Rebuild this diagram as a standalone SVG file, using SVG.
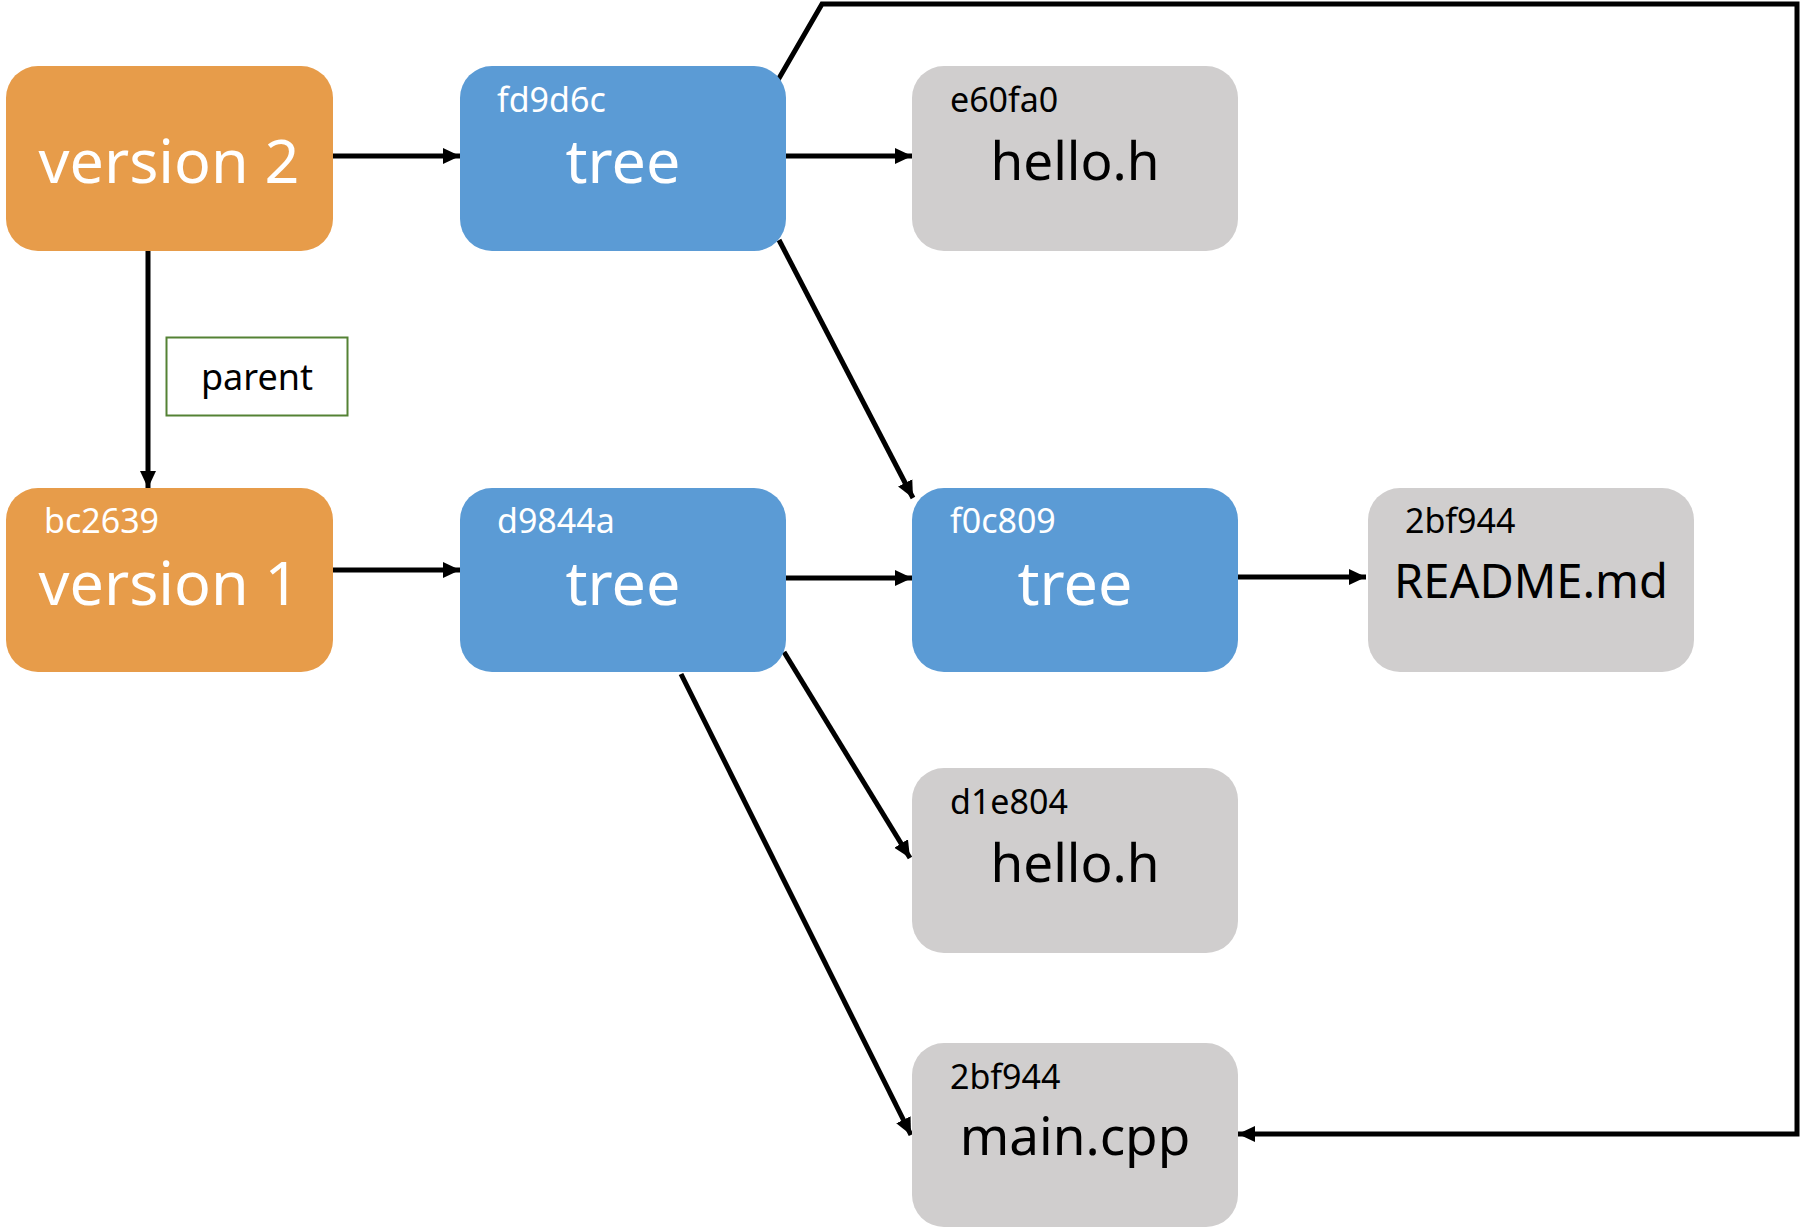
<svg xmlns="http://www.w3.org/2000/svg" width="1801" height="1227" viewBox="0 0 1801 1227">
<style>
.box{stroke:none}
.orange{fill:#E79C4A}
.blue{fill:#5B9BD5}
.grey{fill:#D0CECE}
.t{font-family:"Noto Sans","Liberation Sans",sans-serif}
.w{fill:#FFFFFF}
.k{fill:#000000}
.big{font-size:61px}
.hash{font-size:34px}
.file{font-size:53px}
.conn{fill:none;stroke:#000;stroke-width:5;marker-end:url(#arr)}
</style>
<defs>
<marker id="arr" markerUnits="userSpaceOnUse" markerWidth="18" markerHeight="18" refX="17" refY="9" orient="auto">
<path d="M0,1 L17,9 L0,17 Z" fill="#000"/>
</marker>
</defs>
<rect width="1801" height="1227" fill="#FFFFFF"/>
<g id="connectors">
<line class="conn" x1="333" y1="156" x2="460" y2="156"/>
<line class="conn" x1="333" y1="570" x2="460" y2="570"/>
<line class="conn" x1="786" y1="156" x2="912" y2="156"/>
<line class="conn" x1="786" y1="578" x2="912" y2="578"/>
<line class="conn" x1="1238" y1="577" x2="1366" y2="577"/>
<line class="conn" x1="148" y1="251" x2="148" y2="488"/>
<line class="conn" x1="779" y1="240" x2="913" y2="498"/>
<line class="conn" x1="784" y1="652" x2="910" y2="858"/>
<line class="conn" x1="681" y1="674" x2="911" y2="1135"/>
<polyline class="conn" points="778,80 822,4 1797,4 1797,1134 1238,1134"/>
</g>
<g id="label-parent">
<rect x="166.5" y="337.5" width="181" height="78" fill="#FFFFFF" stroke="#548235" stroke-width="2"/>
<text class="t k" x="257" y="390" font-size="36" text-anchor="middle">parent</text>
</g>
<g id="version2">
<rect class="box orange" x="6" y="66" width="327" height="185" rx="32"/>
<text class="t w big" x="169" y="183" text-anchor="middle">version 2</text>
</g>
<g id="version1">
<rect class="box orange" x="6" y="488" width="327" height="184" rx="32"/>
<text class="t w hash" x="44" y="533">bc2639</text>
<text class="t w big" x="169" y="605" text-anchor="middle">version 1</text>
</g>
<g id="tree-fd9d6c">
<rect class="box blue" x="460" y="66" width="326" height="185" rx="32"/>
<text class="t w hash" x="497" y="112">fd9d6c</text>
<text class="t w big" x="623" y="183" text-anchor="middle">tree</text>
</g>
<g id="tree-d9844a">
<rect class="box blue" x="460" y="488" width="326" height="184" rx="32"/>
<text class="t w hash" x="497" y="533">d9844a</text>
<text class="t w big" x="623" y="605" text-anchor="middle">tree</text>
</g>
<g id="blob-e60fa0">
<rect class="box grey" x="912" y="66" width="326" height="185" rx="32"/>
<text class="t k hash" x="950" y="112">e60fa0</text>
<text class="t k file" x="1075" y="180" text-anchor="middle">hello.h</text>
</g>
<g id="tree-f0c809">
<rect class="box blue" x="912" y="488" width="326" height="184" rx="32"/>
<text class="t w hash" x="950" y="533">f0c809</text>
<text class="t w big" x="1075" y="605" text-anchor="middle">tree</text>
</g>
<g id="blob-readme">
<rect class="box grey" x="1368" y="488" width="326" height="184" rx="32"/>
<text class="t k hash" x="1405" y="533">2bf944</text>
<text class="t k" x="1531" y="598" font-size="47" text-anchor="middle">README.md</text>
</g>
<g id="blob-d1e804">
<rect class="box grey" x="912" y="768" width="326" height="185" rx="32"/>
<text class="t k hash" x="950" y="814">d1e804</text>
<text class="t k file" x="1075" y="882" text-anchor="middle">hello.h</text>
</g>
<g id="blob-main">
<rect class="box grey" x="912" y="1043" width="326" height="184" rx="32"/>
<text class="t k hash" x="950" y="1089">2bf944</text>
<text class="t k file" x="1075" y="1155" text-anchor="middle">main.cpp</text>
</g>
</svg>
